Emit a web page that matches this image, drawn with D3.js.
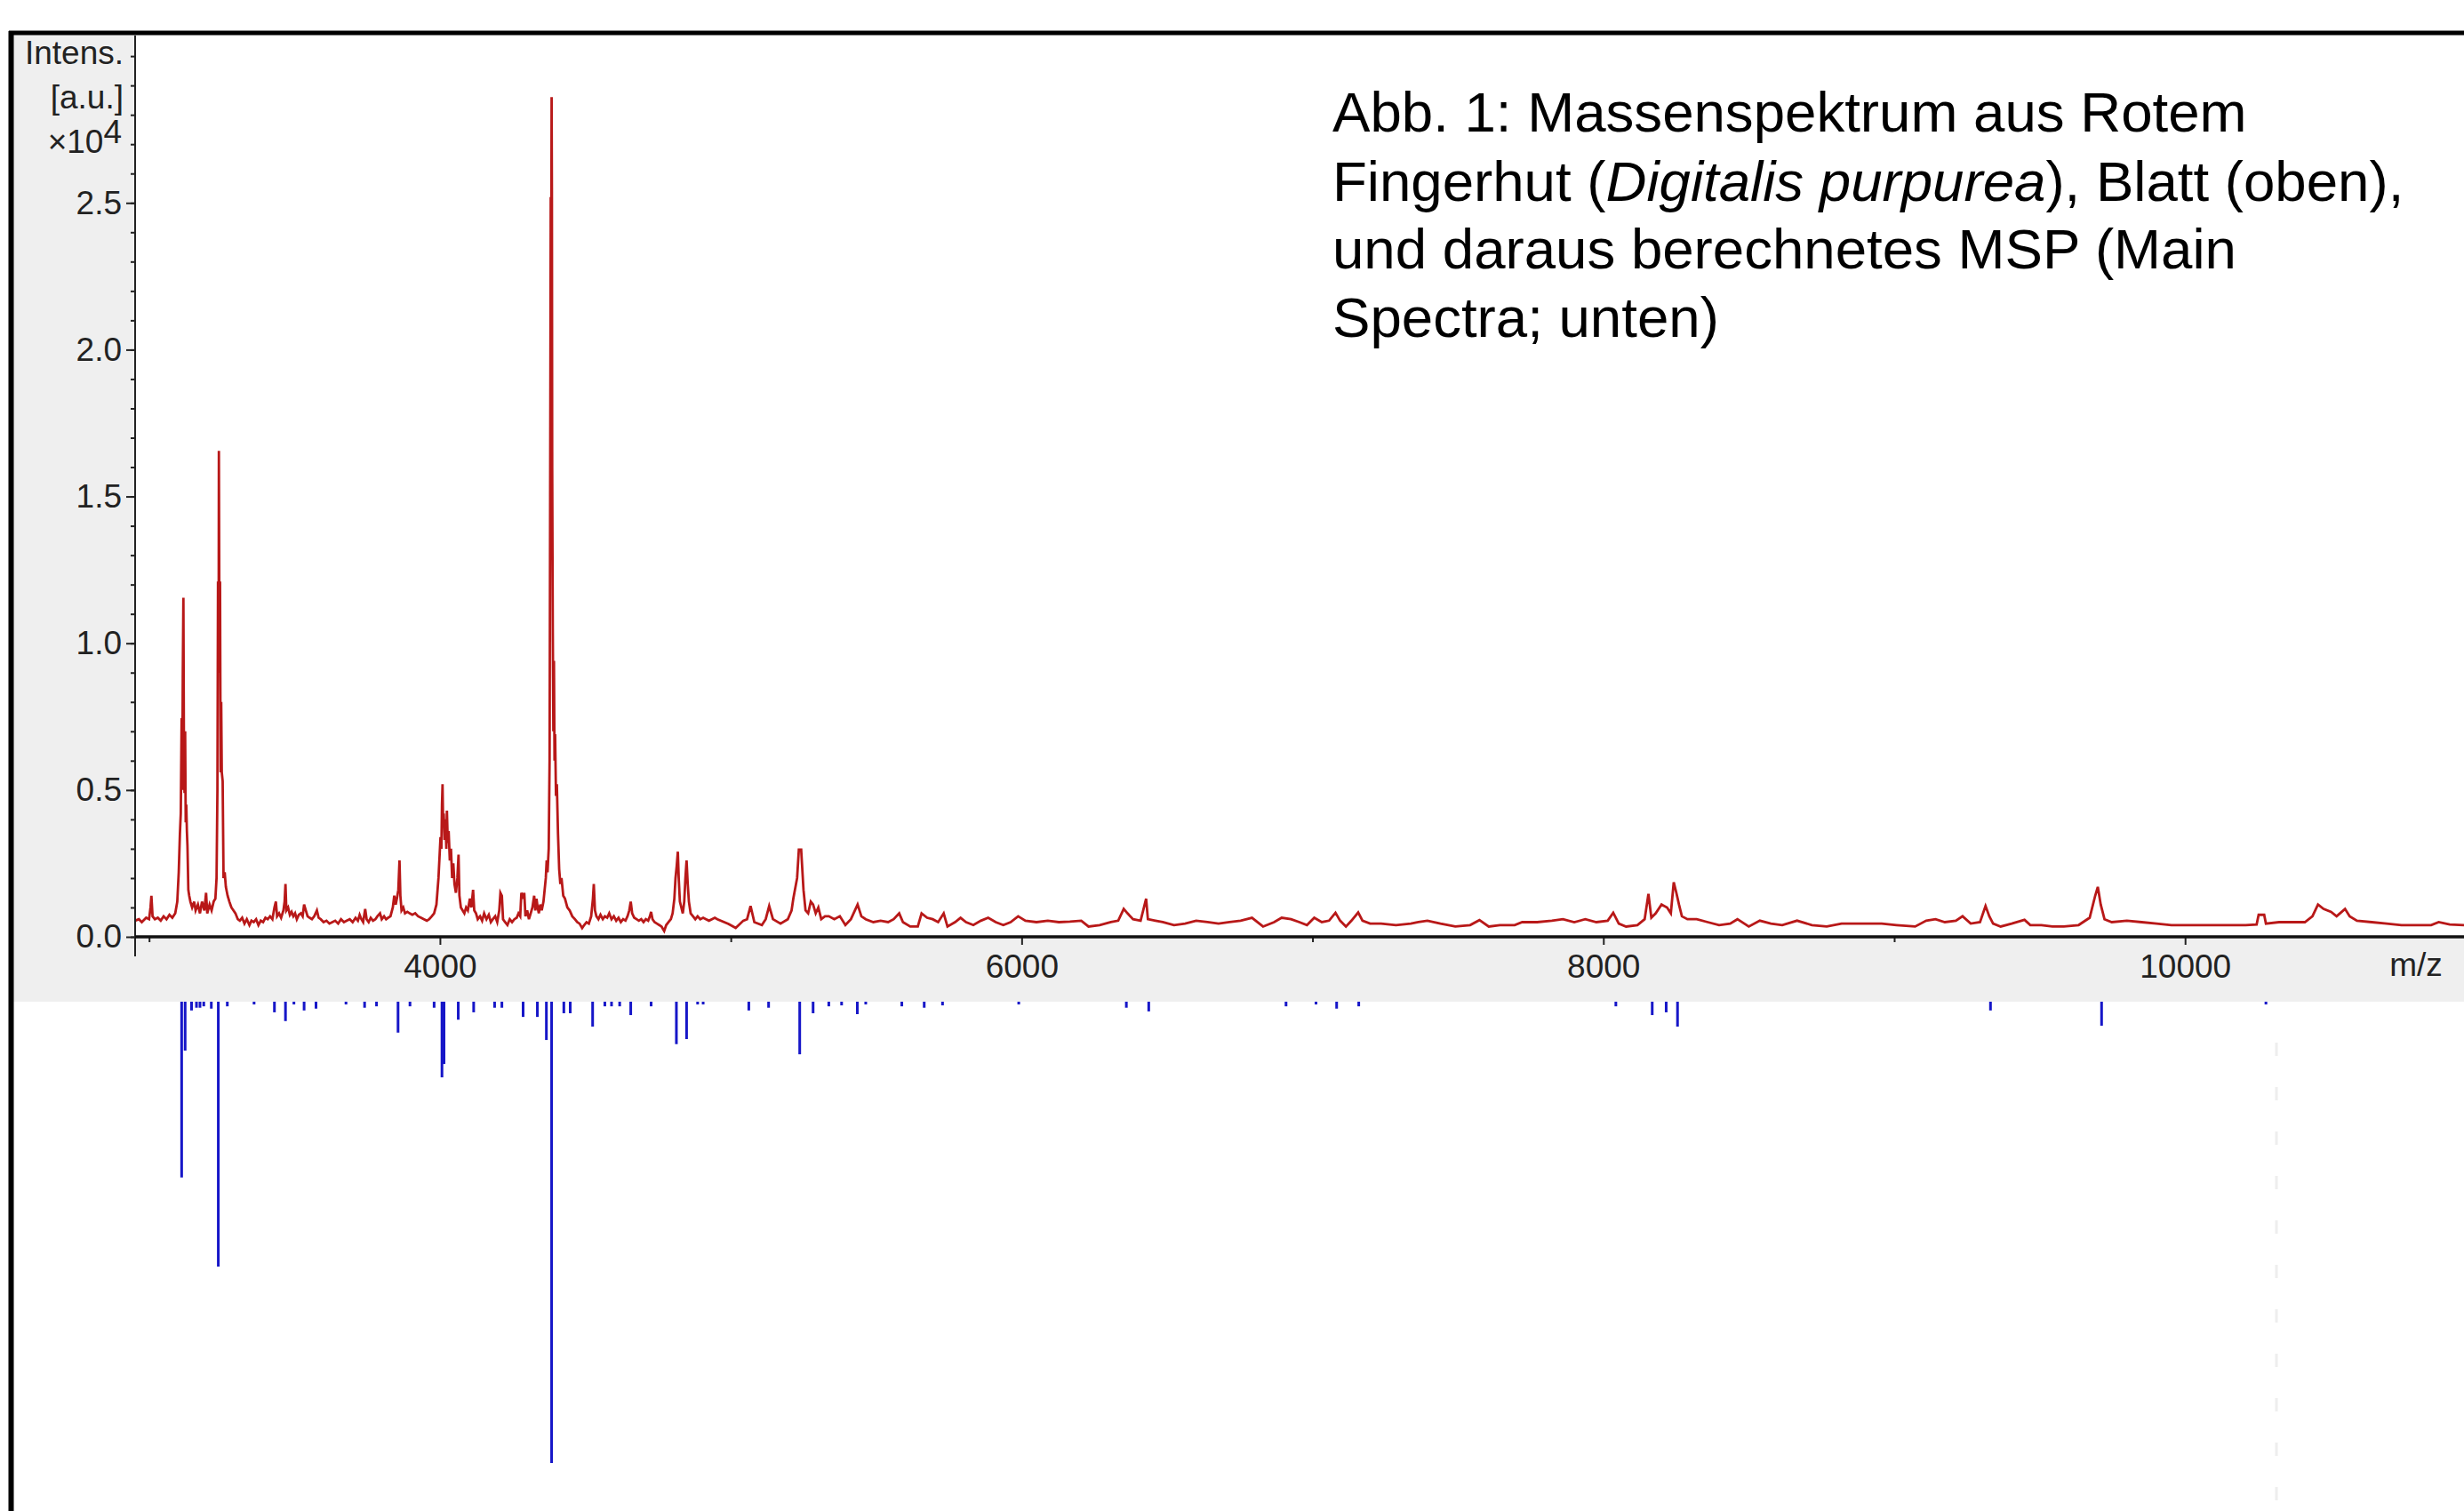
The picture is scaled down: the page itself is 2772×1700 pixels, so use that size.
<!DOCTYPE html>
<html lang="de">
<head>
<meta charset="UTF-8">
<title>Massenspektrum Digitalis purpurea</title>
<script src="https://cdn.jsdelivr.net/npm/d3@7/dist/d3.min.js"></script>
<style>
    body { margin: 0; background: #fff; }
    .axis text { font-family: "Liberation Sans", Arial, sans-serif; font-size: 37px; fill: #222; }
    .axis line { stroke: #222; stroke-width: 2; }
    .title { font-family: "Liberation Sans", Arial, sans-serif; font-size: 63.6px; fill: #000; }
</style>
</head>
<body>
<script>
// Rohspektrum (oben): [m/z, Intensitaet x10^4]
var spectrum = [
    [2952,0.055],[2965,0.06],[2975,0.05],[2990,0.065],[3000,0.06],[3005,0.10],[3008,0.14],[3012,0.07],
    [3020,0.06],[3030,0.065],[3040,0.055],[3050,0.07],[3060,0.06],[3070,0.075],[3080,0.065],[3090,0.08],
    [3097,0.12],[3102,0.22],[3106,0.35],[3109,0.42],[3112,0.745],[3114,0.5],[3116,0.9],[3118,1.155],
    [3120,0.6],[3122,0.49],[3124,0.7],[3126,0.39],[3128,0.45],[3130,0.36],[3132,0.31],[3135,0.16],
    [3138,0.14],[3142,0.12],[3148,0.10],[3155,0.12],[3160,0.09],[3168,0.11],[3175,0.08],[3182,0.12],
    [3190,0.09],[3196,0.15],[3200,0.08],[3208,0.11],[3215,0.09],[3222,0.12],[3228,0.13],[3232,0.2],
    [3235,0.5],[3237,1.21],[3239,0.9],[3240,1.655],[3242,1.0],[3244,1.21],[3246,0.56],[3248,0.8],
    [3250,0.56],[3253,0.53],[3256,0.2],[3260,0.22],[3264,0.17],[3270,0.14],[3276,0.12],[3283,0.1],
    [3290,0.09],[3297,0.08],[3305,0.06],[3312,0.055],[3320,0.065],[3328,0.045],[3336,0.06],[3345,0.04],
    [3352,0.055],[3360,0.05],[3368,0.06],[3376,0.04],[3384,0.055],[3392,0.05],[3400,0.065],[3408,0.06],
    [3416,0.07],[3424,0.06],[3431,0.1],[3436,0.12],[3440,0.07],[3447,0.08],[3454,0.065],[3462,0.09],
    [3466,0.12],[3469,0.18],[3472,0.09],[3478,0.1],[3484,0.075],[3490,0.085],[3496,0.07],[3502,0.08],
    [3508,0.06],[3515,0.075],[3522,0.08],[3528,0.07],[3533,0.11],[3539,0.09],[3545,0.07],[3552,0.065],
    [3560,0.06],[3568,0.07],[3577,0.09],[3583,0.065],[3590,0.06],[3600,0.05],[3610,0.055],[3620,0.045],
    [3630,0.05],[3640,0.055],[3650,0.045],[3660,0.06],[3670,0.05],[3680,0.055],[3690,0.06],[3700,0.05],
    [3710,0.065],[3718,0.055],[3724,0.075],[3730,0.06],[3736,0.05],[3743,0.095],[3748,0.06],[3755,0.05],
    [3762,0.065],[3770,0.055],[3778,0.06],[3785,0.07],[3794,0.08],[3800,0.06],[3808,0.07],[3815,0.06],
    [3822,0.065],[3830,0.07],[3838,0.1],[3843,0.14],[3848,0.11],[3852,0.13],[3857,0.16],[3861,0.26],
    [3864,0.14],[3868,0.09],[3874,0.1],[3880,0.08],[3888,0.085],[3896,0.08],[3905,0.075],[3915,0.08],
    [3925,0.07],[3935,0.065],[3945,0.06],[3955,0.055],[3963,0.06],[3972,0.07],[3980,0.08],[3988,0.11],
    [3995,0.2],[3999,0.28],[4002,0.34],[4005,0.3],[4007,0.45],[4009,0.52],[4011,0.38],[4013,0.42],
    [4016,0.33],[4019,0.4],[4022,0.3],[4024,0.43],[4027,0.32],[4030,0.36],[4034,0.26],[4038,0.3],
    [4042,0.2],[4046,0.25],[4050,0.18],[4055,0.15],[4060,0.2],[4064,0.28],[4067,0.14],[4072,0.1],
    [4078,0.09],[4084,0.08],[4090,0.1],[4096,0.09],[4103,0.13],[4108,0.1],[4114,0.16],[4118,0.09],
    [4124,0.08],[4130,0.06],[4138,0.07],[4145,0.055],[4152,0.08],[4160,0.06],[4168,0.075],[4175,0.05],
    [4182,0.06],[4190,0.07],[4197,0.05],[4204,0.09],[4208,0.15],[4213,0.14],[4217,0.06],[4224,0.05],
    [4232,0.04],[4240,0.06],[4248,0.05],[4256,0.06],[4264,0.065],[4270,0.08],[4276,0.07],[4280,0.15],
    [4286,0.13],[4290,0.15],[4294,0.07],[4300,0.09],[4306,0.06],[4312,0.08],[4318,0.1],[4324,0.14],
    [4328,0.09],[4332,0.13],[4336,0.1],[4340,0.08],[4345,0.11],[4350,0.09],[4356,0.12],[4360,0.16],
    [4364,0.2],[4367,0.26],[4370,0.22],[4374,0.3],[4377,0.6],[4379,1.5],[4381,2.52],[4382,1.9],
    [4383,2.4],[4384,2.86],[4385,2.52],[4386,1.6],[4388,1.05],[4390,0.7],[4392,0.94],[4394,0.6],
    [4396,0.69],[4399,0.48],[4402,0.52],[4406,0.35],[4410,0.23],[4414,0.18],[4418,0.2],[4424,0.14],
    [4430,0.13],[4438,0.1],[4446,0.09],[4455,0.07],[4464,0.06],[4472,0.05],[4480,0.045],[4489,0.03],
    [4496,0.04],[4504,0.05],[4512,0.045],[4520,0.07],[4526,0.13],[4529,0.18],[4533,0.09],[4538,0.07],
    [4545,0.06],[4552,0.075],[4560,0.06],[4567,0.07],[4575,0.065],[4582,0.08],[4590,0.06],[4598,0.07],
    [4606,0.055],[4614,0.065],[4622,0.05],[4630,0.06],[4638,0.055],[4645,0.07],[4651,0.09],[4656,0.12],
    [4661,0.08],[4668,0.065],[4676,0.06],[4684,0.055],[4692,0.06],[4700,0.05],[4708,0.06],[4716,0.055],
    [4722,0.07],[4726,0.085],[4731,0.06],[4738,0.05],[4746,0.045],[4754,0.04],[4762,0.035],[4771,0.02],
    [4778,0.04],[4786,0.05],[4794,0.06],[4800,0.08],[4806,0.13],[4810,0.2],[4814,0.24],[4818,0.29],
    [4821,0.2],[4825,0.12],[4830,0.1],[4835,0.08],[4840,0.12],[4844,0.2],[4848,0.26],[4852,0.18],
    [4856,0.12],[4862,0.08],[4870,0.07],[4878,0.06],[4886,0.07],[4895,0.06],[4905,0.065],[4915,0.06],
    [4925,0.055],[4935,0.06],[4945,0.065],[4954,0.06],[4992,0.044],[5017,0.03],[5043,0.055],[5056,0.06],
    [5068,0.105],[5081,0.05],[5107,0.04],[5120,0.06],[5132,0.105],[5145,0.06],[5171,0.045],[5196,0.06],
    [5209,0.09],[5215,0.13],[5228,0.2],[5234,0.297],[5242,0.297],[5250,0.16],[5257,0.09],[5266,0.08],
    [5275,0.12],[5283,0.11],[5292,0.08],[5301,0.1],[5311,0.06],[5324,0.07],[5337,0.07],[5356,0.06],
    [5375,0.07],[5394,0.04],[5413,0.06],[5436,0.11],[5449,0.07],[5464,0.06],[5490,0.05],[5515,0.055],
    [5541,0.05],[5560,0.06],[5579,0.08],[5592,0.05],[5617,0.035],[5643,0.035],[5656,0.08],[5675,0.065],
    [5694,0.06],[5713,0.05],[5732,0.08],[5745,0.035],[5771,0.05],[5790,0.065],[5809,0.05],[5834,0.04],
    [5860,0.055],[5885,0.065],[5911,0.05],[5937,0.04],[5962,0.05],[5988,0.07],[6013,0.055],[6051,0.05],
    [6090,0.055],[6128,0.05],[6166,0.052],[6205,0.055],[6230,0.035],[6268,0.04],[6307,0.05],[6332,0.055],
    [6351,0.095],[6364,0.08],[6383,0.06],[6409,0.055],[6428,0.13],[6434,0.06],[6460,0.055],[6485,0.05],
    [6524,0.04],[6562,0.045],[6600,0.055],[6639,0.05],[6677,0.045],[6715,0.05],[6753,0.055],[6792,0.065],
    [6830,0.035],[6868,0.05],[6894,0.065],[6926,0.06],[6955,0.05],[6981,0.04],[7006,0.065],[7032,0.05],
    [7057,0.055],[7079,0.082],[7095,0.055],[7115,0.035],[7134,0.055],[7157,0.083],[7172,0.055],[7198,0.045],
    [7236,0.045],[7287,0.04],[7338,0.045],[7364,0.05],[7395,0.055],[7440,0.045],[7491,0.035],[7542,0.04],
    [7574,0.057],[7606,0.035],[7644,0.04],[7695,0.04],[7721,0.05],[7772,0.05],[7823,0.055],[7861,0.06],
    [7900,0.05],[7938,0.06],[7976,0.05],[8015,0.055],[8034,0.082],[8053,0.045],[8078,0.035],[8117,0.04],
    [8142,0.06],[8155,0.146],[8165,0.065],[8180,0.08],[8200,0.11],[8219,0.1],[8232,0.08],[8242,0.186],
    [8251,0.15],[8260,0.11],[8270,0.07],[8289,0.06],[8321,0.06],[8359,0.05],[8398,0.04],[8436,0.045],
    [8461,0.06],[8500,0.035],[8538,0.055],[8576,0.045],[8615,0.04],[8666,0.055],[8717,0.04],[8768,0.035],
    [8819,0.045],[8870,0.045],[8921,0.045],[8957,0.045],[9008,0.04],[9072,0.035],[9110,0.055],[9142,0.06],
    [9174,0.05],[9212,0.055],[9235,0.07],[9263,0.045],[9295,0.05],[9314,0.105],[9327,0.07],[9340,0.045],
    [9366,0.035],[9404,0.045],[9448,0.058],[9468,0.04],[9506,0.04],[9544,0.035],[9583,0.035],[9634,0.04],
    [9672,0.065],[9691,0.14],[9700,0.17],[9710,0.11],[9723,0.06],[9748,0.05],[9800,0.055],[9851,0.05],
    [9902,0.045],[9953,0.04],[10017,0.04],[10080,0.04],[10144,0.04],[10208,0.04],[10246,0.042],[10253,0.075],
    [10272,0.075],[10278,0.045],[10323,0.05],[10361,0.05],[10412,0.05],[10438,0.07],[10457,0.11],[10476,0.095],
    [10502,0.085],[10521,0.07],[10550,0.095],[10566,0.07],[10591,0.055],[10642,0.05],[10693,0.045],[10744,0.04],
    [10795,0.04],[10846,0.04],[10872,0.05],[10910,0.042],[10959,0.04]
];

// MSP (unten): [m/z, relative Intensitaet in Promille]
var mspPeaks = [
    [3112,381],[3124,106],[3146,19],[3163,13],[3175,13],[3188,10],[3214,15],[3238,574],[3269,10],
    [3361,6],[3431,23],[3469,42],[3498,6],[3533,19],[3574,15],[3677,6],[3741,13],[3782,10],[3856,67],
    [3897,10],[3980,13],[4007,164],[4014,135],[4063,39],[4116,23],[4188,13],[4213,13],[4286,33],[4335,33],
    [4366,83],[4384,1000],[4426,25],[4448,25],[4525,54],[4567,10],[4590,10],[4618,10],[4656,29],[4726,10],
    [4813,92],[4848,81],[4886,6],[4905,6],[5062,19],[5130,13],[5237,114],[5283,25],[5337,10],[5381,8],
    [5435,27],[5464,6],[5588,10],[5665,13],[5728,8],[5990,6],[6360,13],[6437,21],[6909,10],[7012,6],
    [7083,15],[7159,10],[8043,10],[8168,29],[8216,23],[8255,54],[9331,19],[9713,52],[10278,6]
];

var xMajorTicks = [4000, 6000, 8000, 10000];
var xMinorTicks = [3000, 5000, 7000, 9000];
var yMajorTicks = [0, 0.5, 1.0, 1.5, 2.0, 2.5];
var yTickLabels = ["0.0", "0.5", "1.0", "1.5", "2.0", "2.5"];

var width = 2772, height = 1700;
var plot = {left: 152, top: 40, right: 2772, bottom: 1054};
var stickTop = 1127, stickMax = 519;

var svg = d3.select("body").append("svg")
    .attr("width", width)
    .attr("height", height);

// grauer Hintergrund der Messsoftware
svg.append("rect")
    .attr("x", 15).attr("y", 38)
    .attr("width", width - 15).attr("height", stickTop - 38)
    .attr("fill", "#efefef");
svg.append("rect")
    .attr("x", plot.left).attr("y", plot.top)
    .attr("width", plot.right - plot.left).attr("height", plot.bottom - plot.top)
    .attr("fill", "#fff");

var xScale = d3.scaleLinear()
    .domain([2952, 10959])
    .range([plot.left, plot.right]);
var yScale = d3.scaleLinear()
    .domain([0, 3.07])
    .range([plot.bottom, plot.top]);
var stickScale = d3.scaleLinear()
    .domain([0, 1000])
    .range([0, stickMax]);

svg.append("clipPath").attr("id", "plotClip")
    .append("rect")
    .attr("x", plot.left).attr("y", plot.top)
    .attr("width", plot.right - plot.left).attr("height", plot.bottom - plot.top);

// Spektrum
var line = d3.line()
    .x(function (d) { return xScale(d[0]); })
    .y(function (d) { return yScale(d[1]); });
svg.append("path")
    .datum(spectrum)
    .attr("clip-path", "url(#plotClip)")
    .attr("d", line)
    .attr("fill", "none")
    .attr("stroke", "#b81818")
    .attr("stroke-width", 2.8)
    .attr("stroke-linejoin", "miter");

// y-Achse
var yMinor = svg.append("g")
    .attr("class", "axis")
    .attr("transform", "translate(" + plot.left + ",0)")
    .call(d3.axisLeft(yScale).ticks(30).tickSize(5).tickFormat(""));
yMinor.select(".domain").remove();
var yAxis = svg.append("g")
    .attr("class", "axis")
    .attr("transform", "translate(" + plot.left + ",0)")
    .call(d3.axisLeft(yScale).tickValues(yMajorTicks).tickSize(10).tickPadding(5)
        .tickFormat(function (d, i) { return yTickLabels[i]; }));
yAxis.select(".domain").remove();

// x-Achse
var xMinor = svg.append("g")
    .attr("class", "axis")
    .attr("transform", "translate(0," + plot.bottom + ")")
    .call(d3.axisBottom(xScale).tickValues(xMinorTicks).tickSize(6).tickFormat(""));
xMinor.select(".domain").remove();
var xAxis = svg.append("g")
    .attr("class", "axis")
    .attr("transform", "translate(0," + plot.bottom + ")")
    .call(d3.axisBottom(xScale).tickValues(xMajorTicks).tickSize(9).tickPadding(11)
        .tickFormat(d3.format("d")));
xAxis.select(".domain").remove();

svg.append("line")
    .attr("x1", plot.left).attr("x2", plot.left)
    .attr("y1", plot.top).attr("y2", plot.bottom + 22)
    .attr("stroke", "#222").attr("stroke-width", 2);
svg.append("line")
    .attr("x1", plot.left).attr("x2", plot.right)
    .attr("y1", plot.bottom).attr("y2", plot.bottom)
    .attr("stroke", "#111").attr("stroke-width", 3.5);

// Achsenbeschriftung
var axLab = svg.append("g").attr("class", "axis").attr("text-anchor", "end");
axLab.append("text").attr("x", 139).attr("y", 72).text("Intens.");
axLab.append("text").attr("x", 139).attr("y", 122).text("[a.u.]");
var exp = axLab.append("text").attr("x", 137).attr("y", 172);
exp.append("tspan").text("\u00d710");
exp.append("tspan").attr("dy", -11).text("4");
svg.append("text").attr("class", "axis")
    .append("tspan")
    .attr("x", 2718).attr("y", 1098)
    .attr("text-anchor", "middle")
    .style("font-family", "Liberation Sans, Arial, sans-serif")
    .style("font-size", "37px").style("fill", "#222")
    .text("m/z");

// MSP-Striche
svg.selectAll(".stick")
    .data(mspPeaks)
    .enter()
    .append("line")
    .attr("class", "stick")
    .attr("x1", function (d) { return xScale(d[0]); })
    .attr("x2", function (d) { return xScale(d[0]); })
    .attr("y1", stickTop)
    .attr("y2", function (d) { return stickTop + stickScale(d[1]); })
    .attr("stroke", "#1616c8")
    .attr("stroke-width", 3);

// blasse gestrichelte Linie
svg.append("line")
    .attr("x1", 2561).attr("x2", 2561)
    .attr("y1", 1173).attr("y2", height)
    .attr("stroke", "#eeeeee").attr("stroke-width", 3)
    .attr("stroke-dasharray", "15,35");

// schwarzer Rahmen
svg.append("line")
    .attr("x1", 10).attr("x2", width)
    .attr("y1", 37).attr("y2", 37)
    .attr("stroke", "#000").attr("stroke-width", 5);
svg.append("line")
    .attr("x1", 12.5).attr("x2", 12.5)
    .attr("y1", 35).attr("y2", height)
    .attr("stroke", "#000").attr("stroke-width", 6);

// Bildunterschrift
var title = svg.append("text").attr("class", "title");
title.append("tspan").attr("x", 1499).attr("y", 148).text("Abb. 1: Massenspektrum aus Rotem");
var l2 = title.append("tspan").attr("x", 1499).attr("y", 226);
l2.append("tspan").text("Fingerhut (");
l2.append("tspan").style("font-style", "italic").text("Digitalis purpurea");
l2.append("tspan").text("),\u00a0Blatt (oben),");
title.append("tspan").attr("x", 1499).attr("y", 302).text("und daraus berechnetes MSP (Main");
title.append("tspan").attr("x", 1499).attr("y", 379).text("Spectra; unten)");
</script>
</body>
</html>
